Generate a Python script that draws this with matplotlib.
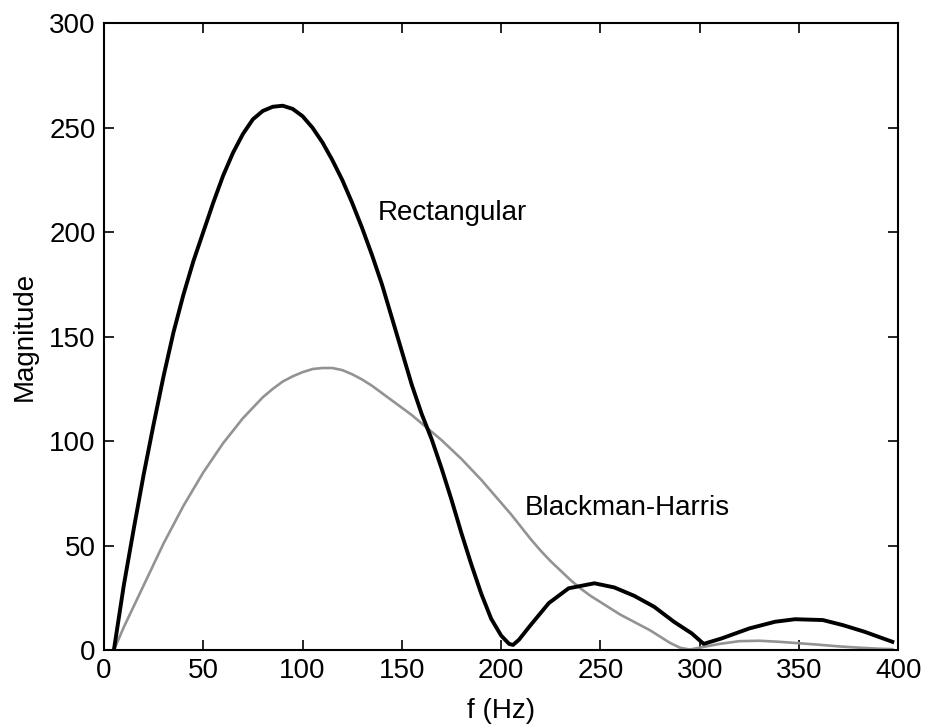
import matplotlib.pyplot as plt

# Rectangular window spectrum
rect_f = [5, 10, 15, 20, 25, 30, 35, 40, 45, 50, 55, 60, 65, 70, 75, 80, 85, 90,
          95, 100, 105, 110, 115, 120, 125, 130, 135, 140, 145, 150, 155, 160,
          165, 170, 175, 180, 185, 190, 195, 200, 204, 206, 209, 214, 224, 234,
          247, 257, 267, 277, 287, 296, 302, 311, 325, 338, 348, 362, 372, 383,
          397]
rect_m = [0, 31, 58, 84, 108, 131, 152, 170, 186, 200, 214, 227, 238, 247, 254,
          258, 260, 260.5, 259, 255.5, 250, 243, 234.5, 225, 214, 202, 189, 175,
          159, 143, 127, 113, 101, 87, 72, 56, 41, 27, 15, 7, 3, 2.5, 5, 11,
          22.5, 29.6, 32, 30, 26, 20.8, 13.6, 8, 3, 5.6, 10.4, 13.6, 14.8, 14.4,
          12, 8.8, 4]

# Blackman-Harris window spectrum
bh_f = [5, 10, 15, 20, 25, 30, 35, 40, 45, 50, 55, 60, 65, 70, 75, 80, 85, 90,
        95, 100, 105, 110, 115, 120, 125, 130, 135, 140, 145, 150, 155, 160,
        165, 170, 175, 180, 185, 190, 195, 200, 205, 210, 215, 220, 225, 230,
        235, 240, 245, 250, 255, 260, 265, 270, 275, 280, 285, 290, 295, 300,
        310, 320, 330, 340, 350, 360, 370, 380, 390, 397]
bh_m = [0, 11, 21, 31, 41, 51, 60, 69, 77, 85, 92, 99, 105, 111, 116, 121, 125,
        128.5, 131, 133, 134.5, 135, 135, 134, 132, 129.5, 126.5, 123, 119.5,
        116, 112.5, 108.5, 104.5, 100.5, 96, 91.5, 86.5, 81.5, 76, 70.5, 65,
        59, 53, 47.5, 42.5, 38, 33.5, 29.5, 26, 23, 20, 17, 14.5, 12, 9.5, 6.5,
        3.5, 1.2, 0.3, 1.2, 3, 4.3, 4.5, 4, 3.3, 2.6, 1.8, 1.2, 0.7, 0.5]

x_ticks = [0, 50, 100, 150, 200, 250, 300, 350, 400]
y_ticks = [0, 50, 100, 150, 200, 250, 300]

plt.rcParams["font.family"] = ["Liberation Sans", "DejaVu Sans"]
plt.rcParams["font.size"] = 20

fig = plt.figure(figsize=(9.28, 7.24), dpi=100)
ax = fig.add_axes([0.112, 0.102, 0.856, 0.866])

ax.plot(bh_f, bh_m, color="#939393", lw=1.9)
ax.plot(rect_f, rect_m, color="black", lw=2.8)

ax.text(138, 209, "Rectangular", va="center", ha="left")
ax.text(212, 68, "Blackman-Harris", va="center", ha="left")

ax.set_xlim(0, 400)
ax.set_ylim(0, 300)
ax.set_xticks(x_ticks)
ax.set_yticks(y_ticks)
ax.tick_params(direction="in", length=7, width=1.2, top=True, right=True, pad=6)
for s in ax.spines.values():
    s.set_linewidth(1.5)

ax.set_xlabel("f (Hz)", labelpad=10)
ax.set_ylabel("Magnitude", labelpad=8)

fig.savefig("out.png", dpi=100)
